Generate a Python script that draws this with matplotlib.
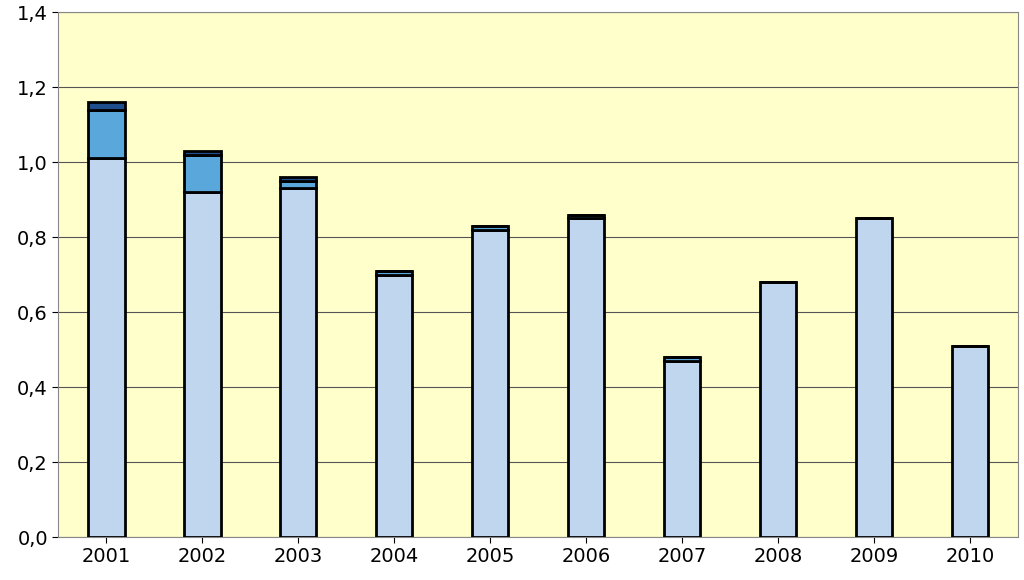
import matplotlib
matplotlib.use("Agg")
import matplotlib.pyplot as plt
import numpy as np
from matplotlib.ticker import FuncFormatter

years = ["2001", "2002", "2003", "2004", "2005", "2006", "2007", "2008", "2009", "2010"]
series_a = [1.01, 0.92, 0.93, 0.70, 0.82, 0.85, 0.47, 0.68, 0.85, 0.51]
series_b = [0.13, 0.10, 0.02, 0.01, 0.01, 0.01, 0.01, 0.0, 0.0, 0.0]
series_c = [0.02, 0.01, 0.01, 0.0, 0.0, 0.0, 0.0, 0.0, 0.0, 0.0]

fig = plt.figure(figsize=(10.24, 5.8), dpi=100)
ax = fig.add_axes([0.057, 0.074, 0.937, 0.905])
ax.set_facecolor("#FFFFCC")

x = np.arange(len(years))
w = 0.38
kw = dict(width=w, edgecolor="black", linewidth=2, zorder=3)
a = np.array(series_a)
b = np.array(series_b)
c = np.array(series_c)
ax.bar(x, a, color="#C0D6EE", **kw)
ax.bar(x, b, bottom=a, color="#5AA7DC", **kw)
ax.bar(x, c, bottom=a + b, color="#1F4E8C", **kw)

ax.set_xlim(-0.5, len(years) - 0.5)
ax.set_ylim(0, 1.4)
ax.set_yticks(np.arange(0, 1.41, 0.2))
ax.yaxis.set_major_formatter(FuncFormatter(lambda v, p: f"{v:.1f}".replace(".", ",")))
ax.set_xticks(x)
ax.set_xticklabels(years)
ax.grid(axis="y", color="#555555", linewidth=0.8, zorder=0)
ax.tick_params(labelsize=14, length=4)
for s in ax.spines.values():
    s.set_color("#888888")

fig.savefig("out.png", dpi=100)
